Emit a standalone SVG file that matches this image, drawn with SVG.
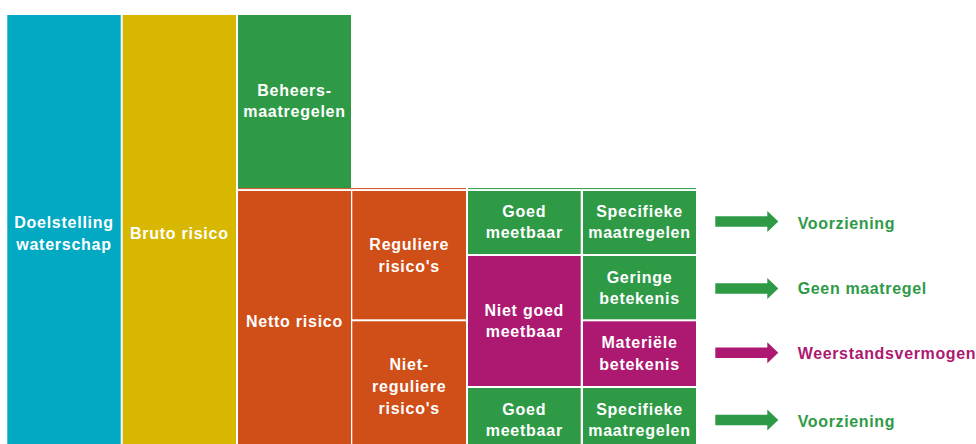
<svg xmlns="http://www.w3.org/2000/svg" width="976" height="444" viewBox="0 0 976 444">
<style>
.t{font-family:"Liberation Sans",Arial,sans-serif;font-weight:bold;font-size:16px;fill:#fff;text-anchor:middle;letter-spacing:0.75px}
.l{font-family:"Liberation Sans",Arial,sans-serif;font-weight:bold;font-size:16px;letter-spacing:0.65px}
.teal{fill:#02A9C3}.gold{fill:#D7B700}.green{fill:#2E9A46}.orange{fill:#D04E18}.mag{fill:#AD1871}
</style>
<rect width="976" height="444" fill="#fff"/>
<g id="top-lines">
<line x1="238" y1="188.6" x2="466" y2="188.6" stroke="#D04E18" stroke-width="1"/>
<line x1="468" y1="188.6" x2="696" y2="188.6" stroke="#2E9A46" stroke-width="1"/>
</g>
<g id="doelstelling"><rect class="teal" x="7.3" y="15" width="113.4" height="435"/>
<text class="t" x="64" y="228.3">Doelstelling</text><text class="t" x="64" y="250">waterschap</text></g>
<g id="bruto"><rect class="gold" x="122.7" y="15" width="113.3" height="435"/>
<text class="t" x="179.3" y="239">Bruto risico</text></g>
<g id="beheers"><rect class="green" x="238" y="15" width="113" height="173"/>
<text class="t" x="294.5" y="96">Beheers-</text><text class="t" x="294.5" y="117.3">maatregelen</text></g>
<g id="netto"><rect class="orange" x="238" y="191" width="113" height="259"/>
<text class="t" x="294.5" y="326.7">Netto risico</text></g>
<g id="reguliere"><rect class="orange" x="352.3" y="191" width="113.7" height="128.3"/>
<text class="t" x="409.2" y="250">Reguliere</text><text class="t" x="409.2" y="271.7">risico's</text></g>
<g id="niet-reguliere"><rect class="orange" x="352.3" y="321.3" width="113.7" height="129"/>
<text class="t" x="409.2" y="370">Niet-</text><text class="t" x="409.2" y="392">reguliere</text><text class="t" x="409.2" y="414">risico's</text></g>
<g id="goed1"><rect class="green" x="468" y="191" width="112.7" height="63"/>
<text class="t" x="524.3" y="216.7">Goed</text><text class="t" x="524.3" y="238.3">meetbaar</text></g>
<g id="nietgoed"><rect class="mag" x="468" y="256" width="112.7" height="130"/>
<text class="t" x="524.3" y="316">Niet goed</text><text class="t" x="524.3" y="336.7">meetbaar</text></g>
<g id="goed2"><rect class="green" x="468" y="388" width="112.7" height="62"/>
<text class="t" x="524.3" y="415">Goed</text><text class="t" x="524.3" y="436">meetbaar</text></g>
<g id="specifieke1"><rect class="green" x="583" y="191" width="113" height="63"/>
<text class="t" x="639.5" y="216.7">Specifieke</text><text class="t" x="639.5" y="238.3">maatregelen</text></g>
<g id="geringe"><rect class="green" x="583" y="256" width="113" height="63.3"/>
<text class="t" x="639.5" y="283.3">Geringe</text><text class="t" x="639.5" y="304.3">betekenis</text></g>
<g id="materiele"><rect class="mag" x="583" y="321.3" width="113" height="64.7"/>
<text class="t" x="639.5" y="348.3">Materiële</text><text class="t" x="639.5" y="370">betekenis</text></g>
<g id="specifieke2"><rect class="green" x="583" y="388" width="113" height="62"/>
<text class="t" x="639.5" y="415">Specifieke</text><text class="t" x="639.5" y="436">maatregelen</text></g>
<g id="connectors">
<polygon class="green" points="715.3,216.2 767.3,216.2 767.3,211 778.3,221.5 767.3,232 767.3,226.8 715.3,226.8"/>
<polygon class="green" points="715.3,283.3 767.3,283.3 767.3,278 778.3,288.5 767.3,299 767.3,293.7 715.3,293.7"/>
<polygon class="mag" points="715.3,347.5 767.3,347.5 767.3,342.2 778.3,352.7 767.3,363.2 767.3,357.9 715.3,357.9"/>
<polygon class="green" points="715.3,414.8 767.3,414.8 767.3,409.5 778.3,420 767.3,430.5 767.3,425.2 715.3,425.2"/>
</g>
<g id="outcome-voorziening1"><text class="l green" x="797.7" y="229.3">Voorziening</text></g>
<g id="outcome-geen"><text class="l green" x="797.7" y="294.3">Geen maatregel</text></g>
<g id="outcome-weerstand"><text class="l mag" x="797.7" y="359.3">Weerstandsvermogen</text></g>
<g id="outcome-voorziening2"><text class="l green" x="797.7" y="426.7">Voorziening</text></g>
</svg>
